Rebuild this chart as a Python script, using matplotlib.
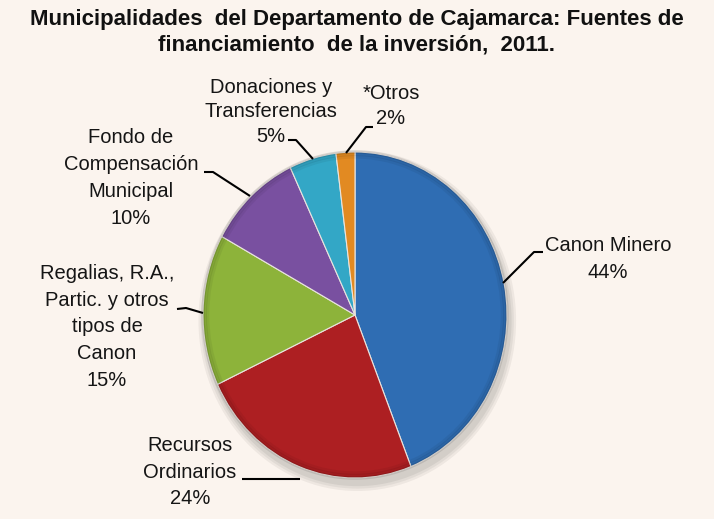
import numpy as np
import matplotlib.pyplot as plt
from matplotlib.patches import Ellipse

# Fuentes de financiamiento, 2011 (%)
labels = ["Canon Minero", "Recursos\nOrdinarios", "Regalias, R.A.,\nPartic. y otros\ntipos de\nCanon",
          "Fondo de\nCompensación\nMunicipal", "Donaciones y\nTransferencias", "*Otros"]
values = [44, 24, 15, 10, 5, 2]
colors = ["#2f6db3", "#ad1f22", "#8db33a", "#7950a0", "#33a7c6", "#e28a22"]

W, H = 714, 519
cx, cy = 355, 315          # pie centre in pixels
rx, ry = 152, 163          # radii in pixels (pie is a bit taller than wide)

fig = plt.figure(figsize=(W / 100, H / 100), dpi=100)
fig.patch.set_facecolor("#fbf4ee")
ax = fig.add_axes([0, 0, 1, 1])
ax.set_facecolor("#fbf4ee")


def px(x, y):
    return (x - cx) / rx, (cy - y) / ry


# soft shadow under the pie
for i, a in enumerate([0.05, 0.05, 0.06]):
    ax.add_patch(Ellipse((0.015, -0.035), 2.0 + 0.03 * (3 - i), 2.0 + 0.03 * (3 - i),
                         color="black", alpha=a, lw=0, zorder=1))

wedges, _ = ax.pie(values, colors=colors, startangle=90, counterclock=False,
                   radius=1, center=(0, 0), frame=True,
                   wedgeprops=dict(edgecolor="#e9e4df", linewidth=0.8, zorder=2))
ax.set_xlim(-cx / rx, (W - cx) / rx)
ax.set_ylim((cy - H) / ry, cy / ry)
ax.set_aspect("auto")
ax.axis("off")

# darker rim for the bevel look
for r, a in [(1.0, 0.10), (0.985, 0.07), (0.97, 0.05)]:
    ax.add_patch(Ellipse((0, 0), 2 * r, 2 * r, fill=False, edgecolor="black",
                         lw=2.5, alpha=a, zorder=3))

font = ["Liberation Sans", "DejaVu Sans"]
tsize = 14.5

# label text centre (pixels), leader line points (pixels)
label_pos = [(608, 259), (190, 472), (107, 327), (131, 178), (271, 112), (391, 106)]
spacing = [1.52, 1.52, 1.52, 1.52, 1.38, 1.38]
leaders = [
    [(543, 252), (534, 252), (503, 283)],
    [(242, 479), (300, 479)],
    [(177, 309), (186, 308), (203, 313)],
    [(204, 172), (213, 172), (250, 196)],
    [(288, 140), (296, 140), (313, 159)],
    [(373, 127), (366, 127), (346, 153)],
]

for lab, v, (tx, ty), ls, pts in zip(labels, values, label_pos, spacing, leaders):
    x, y = px(tx, ty)
    ax.text(x, y, f"{lab}\n{v}%", ha="center", va="center", fontsize=tsize,
            family=font, linespacing=ls, color="#151515", zorder=5)
    xs, ys = zip(*[px(a, b) for a, b in pts])
    ax.plot(xs, ys, color="black", lw=1.5, solid_capstyle="butt", zorder=4)

fig.text(0.5, 0.982, "Municipalidades  del Departamento de Cajamarca: Fuentes de\n"
         "financiamiento  de la inversión,  2011.",
         ha="center", va="top", fontsize=16, fontweight="bold",
         family=["Liberation Sans Narrow", "Liberation Sans", "DejaVu Sans"],
         linespacing=1.28, color="#111111")

fig.savefig("out.png", dpi=100, facecolor=fig.get_facecolor())
